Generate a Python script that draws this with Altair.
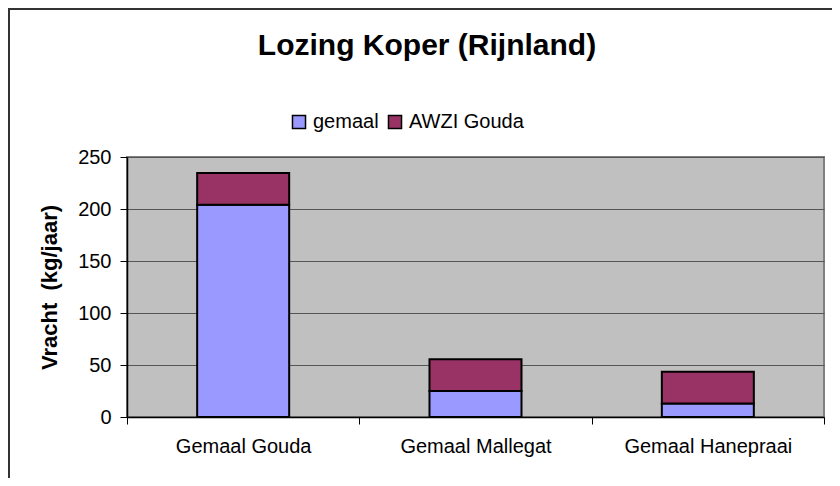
import altair as alt
import pandas as pd

# ---- data ----
categories = ["Gemaal Gouda", "Gemaal Mallegat", "Gemaal Hanepraai"]
series = ["gemaal", "AWZI Gouda"]
gemaal = [204, 25, 13]
awzi_gouda = [30.5, 30.5, 30.5]
y_ticks = [0, 50, 100, 150, 200, 250]
colors = ["#9999FF", "#993366"]

title_text = "Lozing Koper (Rijnland)"
y_title = "Vracht\u00a0\u00a0(kg/jaar)"

FONT = "Liberation Sans, Arial, Helvetica, sans-serif"

rows = []
for i, c in enumerate(categories):
    rows.append({"station": c, "bron": series[0], "vracht": gemaal[i], "volgorde": 0})
    rows.append({"station": c, "bron": series[1], "vracht": awzi_gouda[i], "volgorde": 1})
df = pd.DataFrame(rows)

bars = alt.Chart(df).mark_bar(
    stroke="black", strokeWidth=2, width=alt.RelativeBandSize(0.396)
).encode(
    x=alt.X(
        "station:N",
        sort=categories,
        scale=alt.Scale(paddingInner=0, paddingOuter=0),
        axis=alt.Axis(
            title=None, labelAngle=0, tickBand="extent", domainColor="black",
            tickColor="black", tickSize=7, labelFontSize=20, labelPadding=12,
            labelColor="black", grid=False, domainWidth=1.5,
        ),
    ),
    y=alt.Y(
        "vracht:Q",
        stack="zero",
        scale=alt.Scale(domain=[0, 250], nice=False),
        axis=alt.Axis(
            values=y_ticks, title=y_title, titleFontSize=22, titleFontWeight="bold",
            titlePadding=16, labelFontSize=20, labelPadding=9, tickSize=7,
            grid=True, gridColor="#555555", gridWidth=1, domainColor="black",
            tickColor="black", labelColor="black", titleColor="black", domainWidth=1.5,
        ),
    ),
    color=alt.Color(
        "bron:N",
        scale=alt.Scale(domain=series, range=colors),
        legend=alt.Legend(
            title=None, orient="none", legendX=162, legendY=-45,
            direction="horizontal", symbolType="square", symbolSize=170,
            symbolStrokeColor="black", symbolStrokeWidth=1.5, labelFontSize=20,
            labelColor="black", labelOffset=4, columnPadding=6, symbolOpacity=1,
        ),
    ),
    order=alt.Order("volgorde:Q", sort="ascending"),
)

title = alt.Chart(alt.Data(values=[{}])).mark_text(
    text=title_text, font=FONT, fontSize=30, fontWeight="bold",
    align="center", baseline="alphabetic", color="black",
).encode(x=alt.value(300), y=alt.value(-102))

frame_left = alt.Chart(alt.Data(values=[{}])).mark_rule(
    color="#333333", strokeWidth=2
).encode(x=alt.value(-118), y=alt.value(-149), y2=alt.value(321))

frame_top = alt.Chart(alt.Data(values=[{}])).mark_rule(
    color="#333333", strokeWidth=2
).encode(y=alt.value(-148), x=alt.value(-119), x2=alt.value(705))

chart = alt.layer(bars, title, frame_left, frame_top).properties(
    width=697,
    height=260,
    padding={"left": 119, "top": 149, "right": 8, "bottom": 61},
    autosize=alt.AutoSizeParams(type="none"),
    background="white",
    view=alt.ViewBackground(fill="#C0C0C0", stroke="#808080", strokeWidth=2),
).configure_axis(
    labelFont=FONT, titleFont=FONT
).configure_legend(
    labelFont=FONT
)

chart.save("out.html", embed_options={"renderer": "svg", "actions": False})
